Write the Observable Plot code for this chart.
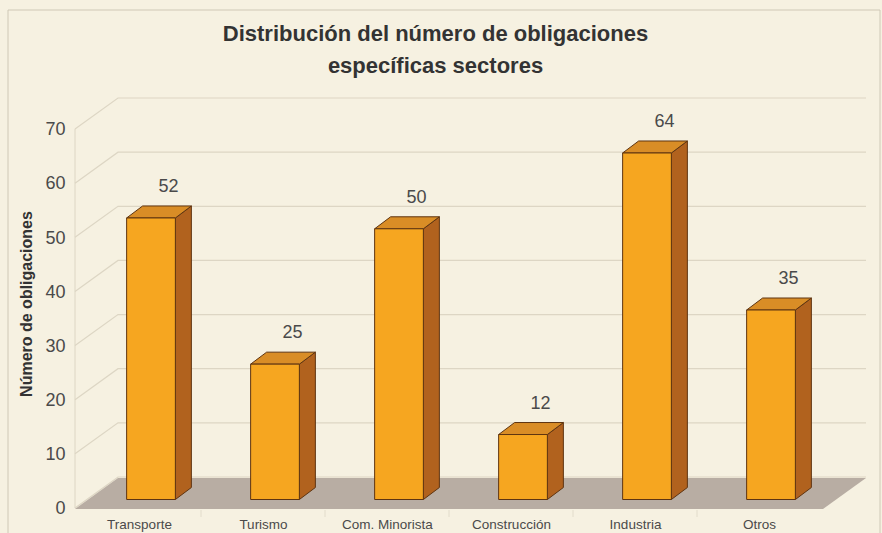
<!DOCTYPE html>
<html><head><meta charset="utf-8">
<script src="https://cdn.jsdelivr.net/npm/d3@7"></script>
<script src="https://cdn.jsdelivr.net/npm/@observablehq/plot@0.6"></script>
<style>html,body{margin:0;padding:0;background:#f6f1e1;overflow:hidden}</style>
</head><body><div id="chart"></div><script>
const sectores = ["Transporte", "Turismo", "Com. Minorista", "Construcción", "Industria", "Otros"];
const obligaciones = [52, 25, 50, 12, 64, 35];
const yTicks = [0, 10, 20, 30, 40, 50, 60, 70];
const titulo = ["Distribución del número de obligaciones", "específicas sectores"];
const ejeY = "Número de obligaciones";

const data = sectores.map((s, i) => ({sector: s, valor: obligaciones[i]}));

// 3D geometry (pixels)
const WDX = 43, WDY = -31;   // depth of the back wall
const BX = 12, BY = -8.5;    // bar inset from front plane
const BDX = 16, BDY = -12;   // bar depth
const BWF = 0.393;           // bar width as fraction of band

const C = {
  front: "#f6a620", top: "#d98d26", side: "#b1621e", edge: "#5e3411",
  floor: "#b8ada3", grid: "#ddd6c4", text: "#4a4a4a", title: "#333333"
};

const svgNS = "http://www.w3.org/2000/svg";
function el(name, attrs) {
  const e = document.createElementNS(svgNS, name);
  for (const k in attrs) e.setAttribute(k, attrs[k]);
  return e;
}
const pts = (arr) => arr.map(p => p.join(",")).join(" ");

// Border around the panel
function borderMark(index, scales, values, dim) {
  const g = el("g", {});
  g.appendChild(el("path", {d: `M8,${dim.height + 5}V10H880V${dim.height + 5}`, fill: "none", stroke: "#cfc8b6", "stroke-width": 1}));
  return g;
}

// Back wall gridlines + diagonal connectors + floor
function wallMark(index, scales) {
  const {x, y} = scales;
  const [x0, x1] = x.range();
  const g = el("g", {});
  g.appendChild(el("line", {x1: x0, x2: x0, y1: y(0), y2: y(70), stroke: C.grid, "stroke-width": 1}));
  for (const t of yTicks) {
    const yy = y(t);
    g.appendChild(el("polyline", {points: pts([[x0, yy], [x0 + WDX, yy + WDY], [x1 + WDX, yy + WDY]]), fill: "none", stroke: C.grid, "stroke-width": 1.2}));
  }
  const y0 = y(0) + 1;
  g.appendChild(el("polygon", {points: pts([[x0, y0], [x1, y0], [x1 + WDX, y0 + WDY], [x0 + WDX, y0 + WDY]]), fill: C.floor}));
  // faint category separators under the floor
  sectores.forEach((s, i) => {
    if (i === 0) return;
    const xx = x(s);
    g.appendChild(el("line", {x1: xx, x2: xx, y1: y0 + 1, y2: y0 + 8, stroke: "#e2dccb", "stroke-width": 1}));
  });
  return g;
}

// 3D bars
function barsMark(index, scales) {
  const {x, y} = scales;
  const bw = x.bandwidth();
  const w = bw * BWF;
  const g = el("g", {"stroke": C.edge, "stroke-width": 1, "stroke-linejoin": "round"});
  for (const d of data) {
    const l = x(d.sector) + (bw - w) / 2 + BX;
    const r = l + w;
    const b = y(0) + BY;
    const t = y(d.valor) + BY;
    g.appendChild(el("polygon", {points: pts([[r, b], [r + BDX, b + BDY], [r + BDX, t + BDY], [r, t]]), fill: C.side}));
    g.appendChild(el("polygon", {points: pts([[l, t], [r, t], [r + BDX, t + BDY], [l + BDX, t + BDY]]), fill: C.top}));
    g.appendChild(el("rect", {x: l, y: t, width: w, height: b - t, fill: C.front}));
  }
  return g;
}

const plot = Plot.plot({
  width: 882,
  height: 533,
  marginLeft: 75,
  marginRight: 59,
  marginTop: 129,
  marginBottom: 25,
  style: {background: "#f6f1e1", fontFamily: "'Liberation Sans', Arial, sans-serif", overflow: "visible"},
  x: {type: "band", domain: sectores, padding: 0, axis: null},
  y: {domain: [0, 70], axis: null},
  marks: [
    borderMark,
    wallMark,
    barsMark,
    Plot.text(yTicks, {y: d => d, text: d => String(d), frameAnchor: "left", textAnchor: "end", lineAnchor: "middle", dx: -10, fontSize: 18, fill: C.text}),
    Plot.text(data, {x: "sector", y: "valor", text: d => String(d.valor), dx: BX + 17, dy: BY - 32, fontSize: 18, fill: C.text}),
    Plot.text(sectores, {x: d => d, text: d => d, frameAnchor: "bottom", textAnchor: "middle", lineAnchor: "middle", dy: 16.5, fontSize: 13.5, fill: C.text}),
    Plot.text([ejeY], {text: d => d, frameAnchor: "left", textAnchor: "middle", lineAnchor: "middle", rotate: -90, dx: -49, dy: -15, fontSize: 16, fontWeight: "bold", fill: C.title}),
    Plot.text([titulo[0]], {text: d => d, frameAnchor: "top", textAnchor: "middle", lineAnchor: "middle", dx: -14, dy: -96, fontSize: 22, fontWeight: "bold", fill: C.title}),
    Plot.text([titulo[1]], {text: d => d, frameAnchor: "top", textAnchor: "middle", lineAnchor: "middle", dx: -14, dy: -64, fontSize: 22, fontWeight: "bold", fill: C.title})
  ]
});
document.getElementById("chart").appendChild(plot);
</script></body></html>
